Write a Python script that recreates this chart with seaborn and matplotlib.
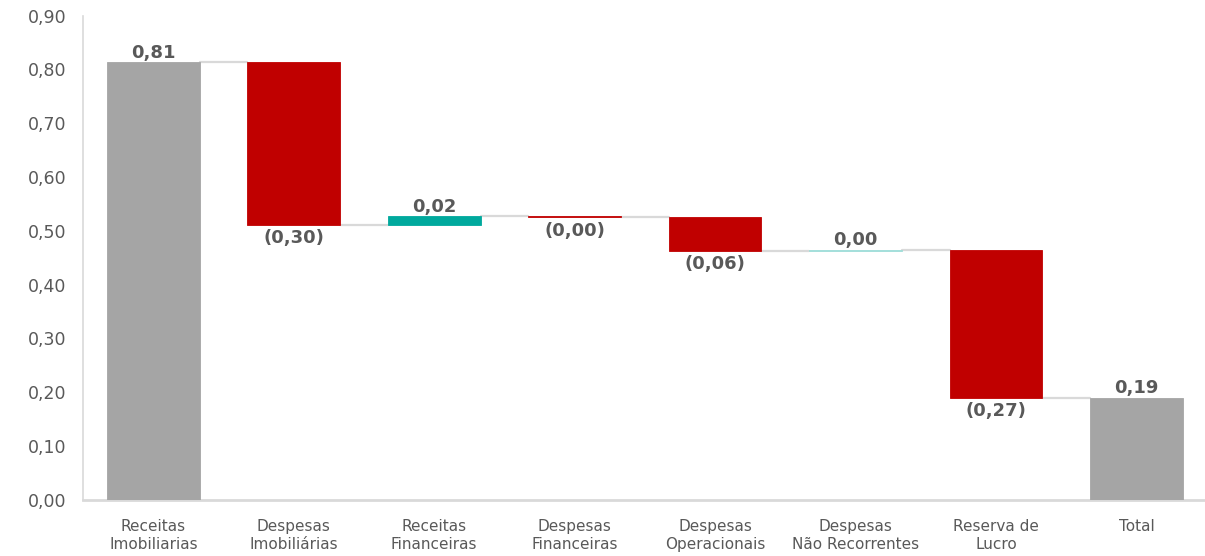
import matplotlib
matplotlib.use("Agg")
import matplotlib.pyplot as plt
import numpy as np
import pandas as pd
import seaborn as sns

categories = ["Receitas\nImobiliarias", "Despesas\nImobiliárias", "Receitas\nFinanceiras",
              "Despesas\nFinanceiras", "Despesas\nOperacionais", "Despesas\nNão Recorrentes",
              "Reserva de\nLucro", "Total"]
changes = [0.813, -0.302, 0.016, -0.002, -0.062, 0.001, -0.274]
y_ticks = [0.0, 0.1, 0.2, 0.3, 0.4, 0.5, 0.6, 0.7, 0.8, 0.9]

GRAY = "#A5A5A5"
RED = "#C00000"
TEAL = "#00A99D"
TEXT = "#595959"
LINE = "#D9D9D9"

# running totals -> floating bars
ends = np.cumsum(changes)
starts = np.concatenate([[0.0], ends[:-1]])
total = ends[-1]
heights = list(changes) + [total]
bottoms = list(starts) + [0.0]
colors = [GRAY] + [RED if c < 0 else TEAL for c in changes[1:]] + [GRAY]

df = pd.DataFrame({"cat": categories, "height": heights, "bottom": bottoms})

sns.set_style("white")
plt.rcParams["font.family"] = ["DejaVu Sans"]

fig = plt.figure(figsize=(12.05, 5.56), dpi=100)
ax = fig.add_axes([0.069, 0.101, 0.93, 0.871])

width = 0.66
sns.barplot(data=df, x="cat", y="height", bottom=df["bottom"].to_numpy(),
            errorbar=None, width=width, color=GRAY, ax=ax, zorder=3)
for patch, c in zip(ax.patches, colors):
    patch.set_facecolor(c)
    patch.set_edgecolor(c)
    patch.set_linewidth(0.6)
# the tiny positive step shows as a pale line in the original
ax.patches[5].set_edgecolor("#9EDDD8")
ax.patches[5].set_facecolor("#9EDDD8")

# connector lines
levels = list(ends)
for i, lvl in enumerate(levels):
    ax.plot([i + width / 2, i + 1 - width / 2], [lvl, lvl], color=LINE, lw=1.6, zorder=2)

# value labels
for i, (h, b) in enumerate(zip(heights, bottoms)):
    if h >= 0:
        txt = f"{abs(h):.2f}".replace(".", ",")
        ax.annotate(txt, (i, b + h), xytext=(0, 0.5), textcoords="offset points",
                    ha="center", va="bottom", fontsize=13, fontweight="bold", color=TEXT)
    else:
        txt = "(" + f"{abs(h):.2f}".replace(".", ",") + ")"
        ax.annotate(txt, (i, b + h), xytext=(0, -3), textcoords="offset points",
                    ha="center", va="top", fontsize=13, fontweight="bold", color=TEXT)

ax.set_ylim(0, 0.9)
ax.set_xlim(-0.5, 7.48)
ax.set_yticks(y_ticks)
ax.set_yticklabels([f"{t:.2f}".replace(".", ",") for t in y_ticks], fontsize=12.5, color=TEXT)
ax.tick_params(axis="x", labelsize=11, labelcolor=TEXT, length=0, pad=14)
ax.tick_params(axis="y", length=0, pad=12)
for lbl in ax.get_xticklabels():
    lbl.set_linespacing(1.25)
ax.set_xlabel("")
ax.set_ylabel("")

for s in ["top", "right"]:
    ax.spines[s].set_visible(False)
ax.spines["left"].set_color(LINE)
ax.spines["left"].set_linewidth(1.2)
ax.spines["bottom"].set_color(LINE)
ax.spines["bottom"].set_linewidth(2)

fig.savefig("out.png", dpi=100)
